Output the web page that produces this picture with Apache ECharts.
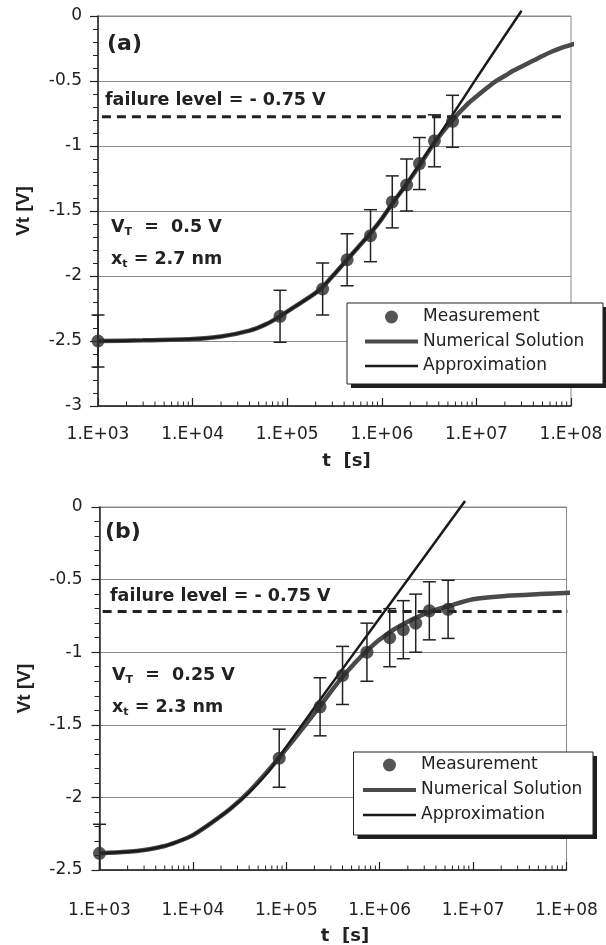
<!DOCTYPE html>
<html><head><meta charset="utf-8">
<script src="https://cdn.jsdelivr.net/npm/echarts@6/dist/echarts.min.js"></script>
<style>html,body{margin:0;padding:0;background:#fff}#c{width:606px;height:945px}</style>
</head><body><div id="c"></div>
<script>
// ---------- axis tick labels ----------
const xTickLabels = ['1.E+03','1.E+04','1.E+05','1.E+06','1.E+07','1.E+08'];
const legendNames = ['Measurement','Numerical Solution','Approximation'];

// ---------- panel (a) ----------
const measTopT   = [1e3, 8.4e4, 2.37e5, 4.3e5, 7.6e5, 1.29e6, 1.83e6, 2.5e6, 3.6e6, 5.6e6];
const measTopV   = [-2.50, -2.31, -2.10, -1.875, -1.69, -1.43, -1.30, -1.135, -0.96, -0.81];
const measTopErr = [0.2, 0.2, 0.2, 0.2, 0.2, 0.2, 0.2, 0.2, 0.2, 0.2];
const numTopT = [1e3, 3e3, 1e4, 2e4, 4e4, 6e4, 8.4e4, 1.3e5, 2e5, 2.4e5, 3.2e5, 4.3e5, 5.6e5, 7.6e5, 1e6, 1.3e6, 1.8e6, 2.5e6, 3.6e6, 5.6e6, 8e6, 1e7, 1.26e7, 1.58e7, 2e7, 2.5e7, 3.16e7, 4e7, 5e7, 6.3e7, 7.9e7, 1e8, 1.2e8];
const numTopV = [-2.50, -2.495, -2.485, -2.465, -2.42, -2.37, -2.31, -2.22, -2.13, -2.08, -1.98, -1.875, -1.78, -1.67, -1.56, -1.44, -1.30, -1.15, -0.975, -0.80, -0.68, -0.62, -0.56, -0.505, -0.46, -0.418, -0.38, -0.343, -0.307, -0.273, -0.245, -0.222, -0.205];
const apxTopT = [1e3, 3e3, 1e4, 2e4, 4e4, 6e4, 8.4e4, 1.3e5, 2e5, 2.4e5, 3.2e5, 4.3e5, 5.6e5, 7.6e5, 1e6, 1.3e6, 1.8e6, 2.5e6, 3.6e6, 5.6e6, 1e7, 2e7, 3e7];
const apxTopV = [-2.50, -2.495, -2.485, -2.465, -2.42, -2.37, -2.31, -2.22, -2.13, -2.08, -1.98, -1.875, -1.78, -1.67, -1.56, -1.44, -1.30, -1.14, -0.97, -0.76, -0.48, -0.15, 0.04];
const failTopT = [1.1e3, 8.0e7];
const failTopV = [-0.775, -0.775];

// ---------- panel (b) ----------
const measBotT   = [1e3, 8.4e4, 2.3e5, 4.0e5, 7.3e5, 1.28e6, 1.79e6, 2.43e6, 3.4e6, 5.4e6];
const measBotV   = [-2.385, -1.73, -1.376, -1.16, -1.0, -0.90, -0.845, -0.80, -0.715, -0.705];
const measBotErr = [0.2, 0.2, 0.2, 0.2, 0.2, 0.2, 0.2, 0.2, 0.2, 0.2];
const numBotT = [1e3, 2e3, 3.16e3, 5e3, 7.9e3, 1e4, 1.58e4, 2.5e4, 4e4, 6.3e4, 8.4e4, 1.26e5, 2.3e5, 4e5, 7.4e5, 1.26e6, 2.3e6, 3.5e6, 5.6e6, 1e7, 2.3e7, 5.2e7, 1.17e8];
const numBotV = [-2.385, -2.375, -2.36, -2.335, -2.29, -2.26, -2.175, -2.08, -1.96, -1.82, -1.725, -1.585, -1.37, -1.17, -0.985, -0.865, -0.77, -0.72, -0.68, -0.635, -0.612, -0.60, -0.59];
const apxBotT = [1e3, 2e3, 3.16e3, 5e3, 7.9e3, 1e4, 1.58e4, 2.5e4, 4e4, 6.3e4, 8.4e4, 2.3e5, 1e6, 3e6, 8.2e6];
const apxBotV = [-2.385, -2.375, -2.36, -2.335, -2.29, -2.26, -2.175, -2.08, -1.965, -1.83, -1.72, -1.328, -0.764, -0.344, 0.042];
const failBotT = [1.08e3, 1.17e8];
const failBotV = [-0.72, -0.72];

// minor log ticks (2..9 x each decade)
const minorTickT = [];
for (let d = 3; d < 8; d++) for (let m = 2; m < 10; m++) minorTickT.push(m * Math.pow(10, d));

const FONT = 'DejaVu Sans';
const INK = '#222';
const NUM_COLOR = '#4a4a4a';
const APX_COLOR = '#1a1a1a';
const pairs = (ts, vs) => ts.map((t, i) => [t, vs[i]]);
const triples = (ts, vs, es) => ts.map((t, i) => [t, vs[i], es[i]]);

function errorBars(i, data, yMin, yMax) {
  return {
    type: 'custom', xAxisIndex: i, yAxisIndex: i, data, z: 4, silent: true, clip: false,
    encode: { x: 0, y: 1 },
    renderItem(params, api) {
      const t = api.value(0), v = api.value(1), e = api.value(2);
      const hiV = Math.min(v + e, yMax), loV = Math.max(v - e, yMin);
      const hi = api.coord([t, hiV]), lo = api.coord([t, loV]);
      const w = 6.5, st = { stroke: INK, lineWidth: 1.5 };
      const ch = [{ type: 'line', shape: { x1: hi[0], y1: hi[1], x2: lo[0], y2: lo[1] }, style: st }];
      if (v + e <= yMax) ch.push({ type: 'line', shape: { x1: hi[0] - w, y1: hi[1], x2: hi[0] + w, y2: hi[1] }, style: st });
      if (v - e >= yMin) ch.push({ type: 'line', shape: { x1: lo[0] - w, y1: lo[1], x2: lo[0] + w, y2: lo[1] }, style: st });
      return { type: 'group', children: ch };
    }
  };
}
function minorTicks(i, yMin) {
  return {
    type: 'custom', xAxisIndex: i, yAxisIndex: i, silent: true, clip: false, z: 6,
    data: minorTickT.map(t => [t, yMin]), encode: { x: 0, y: 1 },
    renderItem(params, api) {
      const c = api.coord([api.value(0), api.value(1)]);
      return { type: 'line', shape: { x1: c[0], y1: c[1], x2: c[0], y2: c[1] - 4.5 }, style: { stroke: INK, lineWidth: 1 } };
    }
  };
}
function xAx(i, margin, nameGap) {
  return {
    type: 'log', logBase: 10, gridIndex: i, min: 1e3, max: 1e8, splitNumber: 5,
    axisLine: { show: true, onZero: false, lineStyle: { color: INK, width: 1.5 } },
    axisTick: { show: true, inside: true, length: 8, lineStyle: { color: INK, width: 1.2 } },
    minorTick: { show: false }, splitLine: { show: false },
    axisLabel: { margin, fontFamily: FONT, fontSize: 17, color: INK,
      formatter: v => xTickLabels[Math.round(Math.log10(v)) - 3] },
    name: 't  [s]', nameLocation: 'middle', nameGap,
    nameTextStyle: { fontFamily: FONT, fontWeight: 'bold', fontSize: 18, color: INK, padding: [0, 0, 0, 24] }
  };
}
function yAx(i, min, margin, nameGap) {
  return {
    type: 'value', gridIndex: i, min, max: 0, interval: 0.5,
    axisLine: { show: true, onZero: false, lineStyle: { color: INK, width: 1.5 } },
    axisTick: { show: true, inside: false, length: 8, lineStyle: { color: INK, width: 1.2 } },
    minorTick: { show: true, splitNumber: 5, length: 5, lineStyle: { color: INK, width: 1 } },
    splitLine: { show: true, lineStyle: { color: '#8a8a8a', width: 1 } },
    axisLabel: { margin, fontFamily: FONT, fontSize: 17, color: INK },
    name: 'Vt [V]', nameLocation: 'middle', nameRotate: 90, nameGap,
    nameTextStyle: { fontFamily: 'Liberation Sans', fontWeight: 'bold', fontSize: 19, color: INK }
  };
}
function panelSeries(i, meas, num, apx, fail, yMin) {
  return [
    minorTicks(i, yMin),
    { type: 'line', name: 'Numerical Solution', xAxisIndex: i, yAxisIndex: i, data: num, symbol: 'none', showSymbol: false,
      smooth: 0.3, clip: false, z: 2, lineStyle: { color: NUM_COLOR, width: 4.5 }, itemStyle: { color: NUM_COLOR } },
    { type: 'line', name: 'Approximation', xAxisIndex: i, yAxisIndex: i, data: apx, symbol: 'none', showSymbol: false,
      smooth: 0.2, clip: false, z: 3, lineStyle: { color: APX_COLOR, width: 2.5 }, itemStyle: { color: APX_COLOR } },
    { type: 'line', name: 'failure', xAxisIndex: i, yAxisIndex: i, data: fail, symbol: 'none', clip: false, z: 3,
      lineStyle: { color: INK, width: 3, type: [9, 6] } },
    errorBars(i, meas, yMin, 0),
    { type: 'scatter', name: 'Measurement', xAxisIndex: i, yAxisIndex: i, data: meas.map(d => [d[0], d[1]]),
      symbol: 'circle', symbolSize: 13, clip: false, z: 5, itemStyle: { color: '#2b2b2b' } }
  ];
}
// thin horizontal bar icons (tiny marks at top/bottom keep the bar's true thickness)
const barIcon = th => 'path://M0,0 L0.01,0 L0.01,0.01 Z M0,13 L0.01,13 L0.01,12.99 Z M0,' + (6.5 - th / 2) + ' L53,' + (6.5 - th / 2) + ' L53,' + (6.5 + th / 2) + ' L0,' + (6.5 + th / 2) + ' Z';
function legendItems(left, top, itemGap) {
  return {
    orient: 'vertical', left, top, padding: 0, itemWidth: 53, itemHeight: 13, itemGap,
    backgroundColor: 'transparent', borderWidth: 0,
    textStyle: { fontFamily: FONT, fontSize: 17, color: INK },
    selectedMode: false, z: 12,
    data: [
      { name: legendNames[0], icon: 'circle' },
      { name: legendNames[1], icon: barIcon(4), itemStyle: { color: NUM_COLOR } },
      { name: legendNames[2], icon: barIcon(2.5), itemStyle: { color: APX_COLOR } }
    ]
  };
}
function legendFrame(x, y, w, h) {
  return [
    { type: 'rect', z: 11, silent: true, shape: { x: x + 4, y: y + 4, width: w, height: h }, style: { fill: '#1e1e1e' } },
    { type: 'rect', z: 11, silent: true, shape: { x, y, width: w, height: h }, style: { fill: '#fff', stroke: INK, lineWidth: 1 } }
  ];
}
const boldTxt = { fontFamily: FONT, fontWeight: 'bold', fontSize: 17.5, lineHeight: 22, verticalAlign: 'middle', fill: INK };
const subTxt = { fontFamily: FONT, fontWeight: 'bold', fontSize: 11, lineHeight: 11, verticalAlign: 'bottom', fill: INK };
function label(x, y, text, size) {
  return { type: 'text', x, y, z: 10, style: { text, font: 'bold ' + size + 'px "DejaVu Sans"', fill: INK, verticalAlign: 'middle', align: 'left' } };
}
function richLabel(x, y, text) {
  return { type: 'text', x, y, z: 10, style: { text, rich: { b: boldTxt, s: subTxt }, verticalAlign: 'middle', align: 'left', fill: INK } };
}

const chart = echarts.init(document.getElementById('c'));
chart.setOption({
  animation: false,
  backgroundColor: '#fff',
  grid: [
    { left: 98, top: 16, width: 473, height: 390, show: true, borderColor: '#888', borderWidth: 1, containLabel: false, outerBoundsMode: 'none' },
    { left: 99.5, top: 507, width: 467, height: 363, show: true, borderColor: '#888', borderWidth: 1, containLabel: false, outerBoundsMode: 'none' }
  ],
  xAxis: [xAx(0, 20, 46), xAx(1, 32, 57)],
  yAxis: [yAx(0, -3, 16, 65), yAx(1, -2.5, 17, 65)],
  legend: [legendItems(365, 308.5, 7.5), legendItems(363, 756.5, 8)],
  graphic: [
    ...legendFrame(347, 303, 256, 81),
    ...legendFrame(353.5, 752, 239.5, 83),
    label(107, 44, '(a)', 22),
    label(105, 100, 'failure level = - 0.75 V', 17.5),
    richLabel(111, 227, '{b|V}{s|T}{b|  =  0.5 V}'),
    richLabel(111, 259, '{b|x}{s|t}{b| = 2.7 nm}'),
    label(105, 532, '(b)', 22),
    label(110, 596, 'failure level = - 0.75 V', 17.5),
    richLabel(112, 675, '{b|V}{s|T}{b|  =  0.25 V}'),
    richLabel(112, 707, '{b|x}{s|t}{b| = 2.3 nm}')
  ],
  series: [
    ...panelSeries(0, triples(measTopT, measTopV, measTopErr), pairs(numTopT, numTopV), pairs(apxTopT, apxTopV), pairs(failTopT, failTopV), -3),
    ...panelSeries(1, triples(measBotT, measBotV, measBotErr), pairs(numBotT, numBotV), pairs(apxBotT, apxBotV), pairs(failBotT, failBotV), -2.5)
  ]
});
</script></body></html>
